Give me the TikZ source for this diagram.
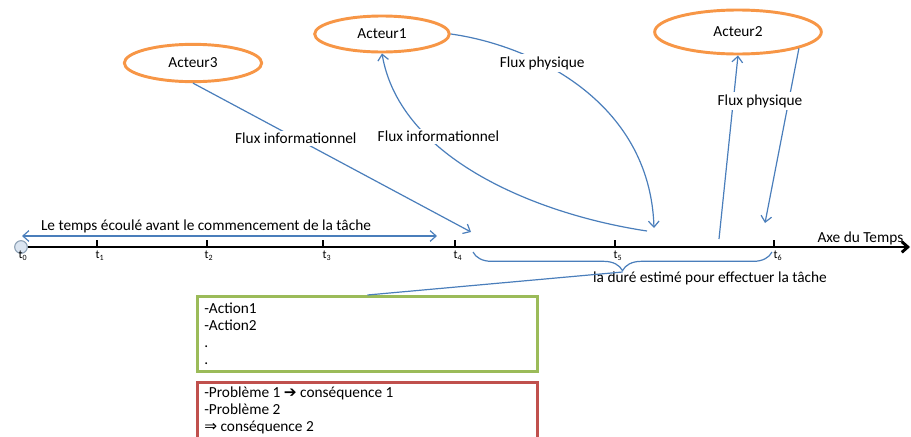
\documentclass[tikz,border=0pt]{standalone}
\usepackage{fontspec}
\setmainfont{Carlito}
\newfontfamily\symbolfont{DejaVu Sans}
\usetikzlibrary{positioning}
\usetikzlibrary{shapes.geometric}
\usetikzlibrary{decorations.pathreplacing}
\usetikzlibrary{arrows.meta}

\definecolor{fluxblue}{RGB}{74,126,187}
\definecolor{acteurorange}{RGB}{247,150,70}
\definecolor{actiongreen}{RGB}{155,187,89}
\definecolor{problemred}{RGB}{192,80,77}
\definecolor{pointfill}{RGB}{219,229,241}
\definecolor{pointdraw}{RGB}{140,160,180}

\tikzset{
	acteur/.style={ellipse, draw=acteurorange, line width=2.2pt, fill=white, inner sep=0pt},
	flux/.style={fluxblue, line width=0.9pt},
	fluxlabel/.style={fill=white, text=black, inner sep=1.5pt},
	tick/.style={black, line width=1.6pt},
	tlabel/.style={anchor=north, inner sep=0pt, font=\fontsize{9}{9}\selectfont},
	cadre/.style={draw, line width=2.2pt, minimum width=255pt, anchor=north},
	cadretexte/.style={anchor=north west, align=left, inner sep=0pt}
}

\begin{document}
\begin{tikzpicture}[x=0.75pt, y=-0.75pt, >={Straight Barb[length=4.5pt, width=8pt]},
	font=\fontsize{11.5}{12.75}\selectfont]
	\path[use as bounding box, clip] (0,0) rectangle (911,436);

	% acteurs
	\node[acteur, minimum width=103pt, minimum height=28pt] (acteur3) at (193,63) {Acteur3};
	\node[acteur, minimum width=101pt, minimum height=27pt] (acteur1) at (382,34) {Acteur1};
	\node[acteur, minimum width=125pt, minimum height=33pt] (acteur2) at (738,32) {Acteur2};

	% axe du temps
	\node[circle, draw=pointdraw, fill=pointfill, line width=0.8pt, minimum size=9.5pt, inner sep=0pt] (origine) at (21,247) {};
	\coordinate (axeFin) at (910,247);
	\draw[black, line width=2.2pt, ->] (origine.east) -- (axeFin);
	\node[anchor=east] (axeLabel) at (908,238) {Axe du Temps};

	\node[tlabel] (lt0) at (23,251) {t\textsubscript{0}};
	\draw[tick] (97,240) -- (97,247);
	\node[tlabel] (lt1) at (100,251) {t\textsubscript{1}};
	\draw[tick] (207,240) -- (207,247);
	\node[tlabel] (lt2) at (209,251) {t\textsubscript{2}};
	\draw[tick] (323,240) -- (323,247);
	\node[tlabel] (lt3) at (327,251) {t\textsubscript{3}};
	\draw[tick] (455,240) -- (455,247);
	\node[tlabel] (lt4) at (458,251) {t\textsubscript{4}};
	\draw[tick] (615,240) -- (615,247);
	\node[tlabel] (lt5) at (618,251) {t\textsubscript{5}};
	\draw[tick] (774,240) -- (774,247);
	\node[tlabel] (lt6) at (778,251) {t\textsubscript{6}};

	% temps avant la tache
	\coordinate (debut) at (22,236);
	\coordinate (debutTache) at (437,236);
	\draw[flux, <->] (debut) -- (debutTache);
	\node (tempsEcoule) at (206,226) {Le temps écoulé avant le commencement de la tâche};

	% duree de la tache
	\coordinate (b4) at (473,252);
	\coordinate (b6) at (772,252);
	\coordinate (pointe) at (622.5,272);
	\draw[flux, decorate, decoration={brace, mirror, amplitude=14pt}] (b4) -- (b6);
	\node (duree) at (710,278) {la duré estimé pour effectuer la tâche};

	% cadres
	\node[cadre, draw=actiongreen, minimum height=56pt] (actions) at (367.5,295) {};
	\node[cadretexte] (actionsTxt) at (204,303) {-Action1\\-Action2\\.\\.};
	\node[cadre, draw=problemred, minimum height=80pt] (problemes) at (367.5,381) {};
	\node[cadretexte] (problemesTxt) at (204,387) {-Problème 1 {\symbolfont ➔} conséquence 1\\-Problème 2\\{\symbolfont ⇒} conséquence 2};
	\draw[flux] (pointe) -- (actions.north);

	% flux
	\coordinate (c4) at (471,232);
	\coordinate (c5a) at (647,231);
	\coordinate (c5b) at (654,228);
	\coordinate (c6a) at (719,239);
	\coordinate (c6b) at (765,223);
	\draw[flux, ->] (acteur3.south) -- node[fluxlabel, pos=0.37] (fi3) {Flux informationnel} (c4);
	\draw[flux, ->] (c5a) .. controls (540,215) and (400,160) .. node[fluxlabel, pos=0.72, xshift=12pt, yshift=-4pt] (fi1) {Flux informationnel} (acteur1.south);
	\draw[flux, ->] (acteur1.east) .. controls (530,45) and (650,100) .. node[fluxlabel, pos=0.35] (fp1) {Flux physique} (c5b);
	\draw[flux, ->] (c6a) -- (acteur2.south);
	\draw[flux, ->] (acteur2.-15) -- (c6b);
	\node[fluxlabel] (fp2) at (760,101) {Flux physique};
\end{tikzpicture}
\end{document}
